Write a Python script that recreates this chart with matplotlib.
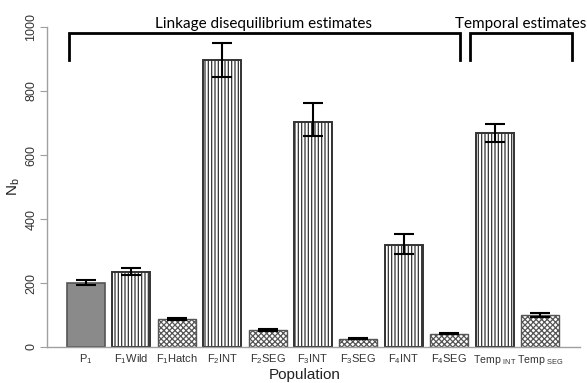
import matplotlib
matplotlib.use("Agg")
import matplotlib.pyplot as plt
import numpy as np

# ---- data ----
labels = ["P$_1$", "F$_1$Wild", "F$_1$Hatch", "F$_2$INT", "F$_2$SEG", "F$_3$INT",
          "F$_3$SEG", "F$_4$INT", "F$_4$SEG", "Temp $_{INT}$", "Temp $_{SEG}$"]
nb = [200, 235, 87, 896, 52, 704, 26, 319, 42, 668, 101]
lower = [193, 225, 84, 845, 49, 658, 24, 290, 40, 640, 95]
upper = [209, 246, 90, 949, 55, 761, 28, 352, 44, 698, 106]
styles = ["solid", "vline", "check", "vline", "check", "vline",
          "check", "vline", "check", "vline", "check"]
group_labels = ["Linkage disequilibrium estimates", "Temporal estimates"]

plt.rcParams['mathtext.default'] = 'regular'
plt.rcParams['hatch.linewidth'] = 0.9
plt.rcParams['font.family'] = ['Liberation Sans', 'DejaVu Sans']

W, H = 587, 383
fig = plt.figure(figsize=(W / 100, H / 100), dpi=100)
px = lambda x0, y0, x1, y1: [x0 / W, 1 - y1 / H, (x1 - x0) / W, (y1 - y0) / H]
ax = fig.add_axes(px(47, 27, 580, 347))

step = 45.4
x0c = 86
ax.set_xlim((47 - x0c) / step, (580 - x0c) / step)
ax.set_ylim(0, 1000)

x = np.arange(len(nb))
for xi, v, s in zip(x, nb, styles):
    if s == "solid":
        ax.bar(xi, v, width=38 / step, color="#8a8a8a", edgecolor="#555555", linewidth=1.2)
    elif s == "vline":
        ax.bar(xi, v, width=38 / step, color="white", edgecolor="#333333",
               hatch="|||||", linewidth=1.4)
    else:
        ax.bar(xi, v, width=38 / step, color="white", edgecolor="#555555",
               hatch="xxxxxx", linewidth=1.0)

yerr = [np.array(nb) - np.array(lower), np.array(upper) - np.array(nb)]
ax.errorbar(x, nb, yerr=yerr, fmt="none", ecolor="black", elinewidth=1.5,
            capsize=7.5, capthick=1.5)

for sp in ["top", "right"]:
    ax.spines[sp].set_visible(False)
for sp in ["left", "bottom"]:
    ax.spines[sp].set_color("#a0a0a0")
    ax.spines[sp].set_linewidth(1.0)

ax.set_yticks([0, 200, 400, 600, 800, 1000])
ax.tick_params(axis="y", colors="#a0a0a0", labelcolor="#333333", length=5,
               labelsize=9, labelrotation=90, pad=2)
for t in ax.get_yticklabels():
    t.set_va("center")
ax.set_xticks(x)
ax.set_xticklabels(labels)
ax.tick_params(axis="x", length=0, labelsize=8, labelcolor="#333333", pad=4)
for t in ax.get_xticklabels()[-2:]:
    t.set_fontsize(7.6)

fig.text(304.5 / W, 1 - 375 / H, "Population", ha="center", va="center",
         fontsize=11, color="#222222")
fig.text(14 / W, 1 - 187 / H, "N$_b$", ha="center", va="center",
         fontsize=11, rotation=90, color="#222222")

# brackets
ybr, ylow, ytxt = 981, 897, 1009
brackets_px = [(69, 460), (470, 572)]
for (l, r) in brackets_px:
    xl_ = (l - x0c) / step
    xr_ = (r - x0c) / step
    ax.plot([xl_, xl_, xr_, xr_], [ylow, ybr, ybr, ylow], color="black",
            lw=2, clip_on=False, solid_joinstyle="miter")
texts_px = [263.5, 521]
for cx, lab in zip(texts_px, group_labels):
    ax.text((cx - x0c) / step, ytxt, lab, ha="center", va="center",
            fontsize=11, family=["Lato", "DejaVu Sans"], clip_on=False)

fig.savefig("out.png", dpi=100)
